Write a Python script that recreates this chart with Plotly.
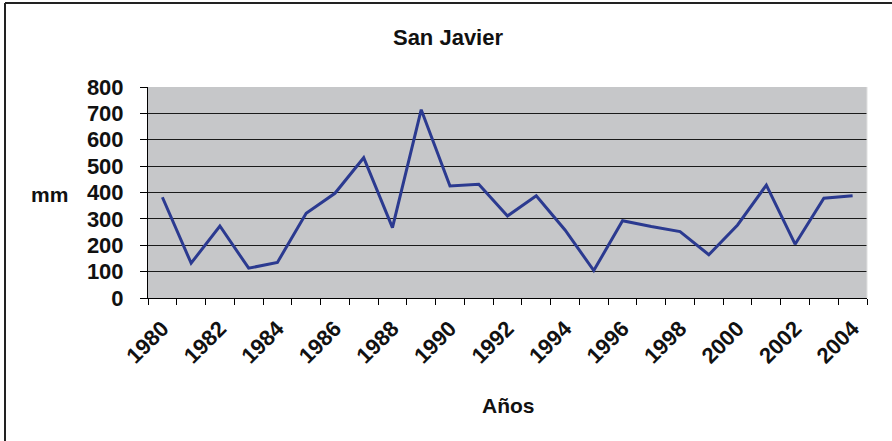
import plotly.graph_objects as go

years = list(range(1980, 2005))
rain_mm = [382, 132, 273, 113, 135, 321, 397, 532, 267, 714, 425, 431, 311,
           388, 258, 104, 293, 271, 252, 164, 277, 428, 204, 378, 388]
x_labels = [str(y) for y in range(1980, 2005, 2)]
y_ticks = list(range(0, 801, 100))

W, H = 892, 441
L, R, T, B = 148, 867, 87, 298

fig = go.Figure()
fig.add_trace(go.Scatter(x=years, y=rain_mm, mode="lines",
                         line=dict(color="#2b3a90", width=3), hoverinfo="x+y"))

def px_x(p):
    return (p - L) / (R - L)

def px_y(p):
    return (B - p) / (B - T)

font = "Liberation Sans, Arial, sans-serif"
fig.update_layout(
    width=W, height=H,
    margin=dict(l=L, r=W - R, t=T, b=H - B, autoexpand=False),
    paper_bgcolor="white", plot_bgcolor="#c6c7c9",
    showlegend=False,
    font=dict(family=font, color="#111111"),
    title=dict(text="<b>San Javier</b>", x=448 / W, xanchor="center",
               y=1 - 37 / H, yanchor="middle",
               font=dict(size=22, family=font, color="#111111")),
    xaxis=dict(range=[1979.5, 2004.5], tickmode="array", automargin=False,
               tickvals=list(range(1980, 2005, 2)), ticktext=x_labels,
               tickangle=-45, ticks="", showgrid=False, zeroline=False,
               showline=True, linecolor="black", linewidth=1,
               ticklabelstandoff=8,
               tickfont=dict(size=22, family=font, color="#111111", weight="bold"),
               minor=dict(tickmode="array",
                          tickvals=[y - 0.5 for y in range(1980, 2006)],
                          ticks="outside", ticklen=6, tickcolor="black",
                          showgrid=False)),
    yaxis=dict(range=[0, 800], tickmode="array", tickvals=y_ticks, automargin=False,
               ticks="outside", ticklen=7, tickcolor="black",
               showgrid=True, gridcolor="#1a1a1a", gridwidth=1,
               zeroline=False, showline=True, linecolor="black", linewidth=1,
               ticklabelstandoff=12,
               tickfont=dict(size=22, family=font, color="#111111", weight="bold")),
)

fig.add_annotation(text="<b>mm</b>", xref="paper", yref="paper",
                   x=px_x(50), y=px_y(194), xanchor="center", yanchor="middle",
                   showarrow=False,
                   font=dict(size=21, family=font, color="#111111"))
fig.add_annotation(text="<b>Años</b>", xref="paper", yref="paper",
                   x=px_x(508), y=px_y(405), xanchor="center", yanchor="middle",
                   showarrow=False,
                   font=dict(size=21, family=font, color="#111111"))

# outer chart frame (left and top edges visible)
fig.add_shape(type="line", xref="paper", yref="paper",
              x0=px_x(5), x1=px_x(5), y0=px_y(3), y1=px_y(445),
              line=dict(color="#222222", width=2))
fig.add_shape(type="line", xref="paper", yref="paper",
              x0=px_x(5), x1=px_x(900), y0=px_y(3), y1=px_y(3),
              line=dict(color="#222222", width=2))
# light right border of plot area
fig.add_shape(type="line", xref="paper", yref="paper",
              x0=1, x1=1, y0=0, y1=1, line=dict(color="#e0e0e0", width=1))

fig.write_html("out.html", config={"displayModeBar": False},
               post_script="document.body.style.margin='0';"
                           "document.body.style.overflow='hidden';")
